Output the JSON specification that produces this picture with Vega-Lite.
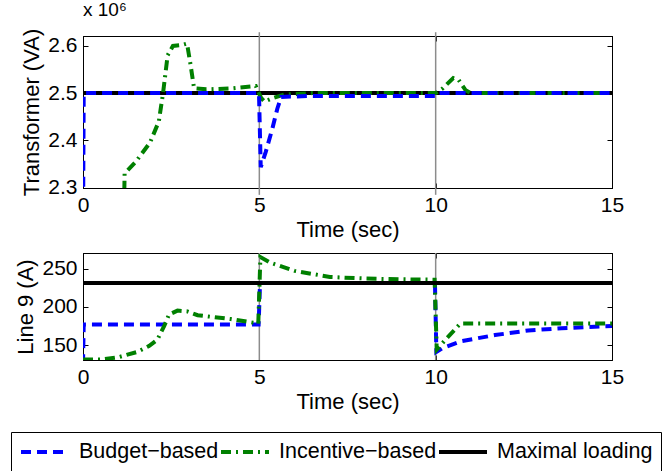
{
  "$schema": "https://vega.github.io/schema/vega-lite/v6.json",
  "padding": {"left": 10, "top": 0, "right": 0, "bottom": 0},
  "background": "white",
  "datasets": {
    "tr": [
      {"series": "Maximal loading", "t": 0, "v": 2.5},
      {"series": "Maximal loading", "t": 15, "v": 2.5},
      {"series": "Budget−based", "t": 0, "v": 2.2},
      {"series": "Budget−based", "t": 0.02, "v": 2.5},
      {"series": "Budget−based", "t": 4.99, "v": 2.5},
      {"series": "Budget−based", "t": 5.04, "v": 2.343},
      {"series": "Budget−based", "t": 5.18, "v": 2.375},
      {"series": "Budget−based", "t": 5.37, "v": 2.425},
      {"series": "Budget−based", "t": 5.51, "v": 2.467},
      {"series": "Budget−based", "t": 5.62, "v": 2.492},
      {"series": "Budget−based", "t": 6.5, "v": 2.494},
      {"series": "Budget−based", "t": 9.98, "v": 2.494},
      {"series": "Budget−based", "t": 10.05, "v": 2.5},
      {"series": "Budget−based", "t": 15, "v": 2.5},
      {"series": "Incentive−based", "t": 1.15, "v": 2.2},
      {"series": "Incentive−based", "t": 1.18, "v": 2.33},
      {"series": "Incentive−based", "t": 1.5, "v": 2.355},
      {"series": "Incentive−based", "t": 1.9, "v": 2.395},
      {"series": "Incentive−based", "t": 2.15, "v": 2.44},
      {"series": "Incentive−based", "t": 2.27, "v": 2.5},
      {"series": "Incentive−based", "t": 2.4, "v": 2.58},
      {"series": "Incentive−based", "t": 2.55, "v": 2.6},
      {"series": "Incentive−based", "t": 2.8, "v": 2.602},
      {"series": "Incentive−based", "t": 2.95, "v": 2.605},
      {"series": "Incentive−based", "t": 3.05, "v": 2.56},
      {"series": "Incentive−based", "t": 3.15, "v": 2.51},
      {"series": "Incentive−based", "t": 3.5, "v": 2.508},
      {"series": "Incentive−based", "t": 4.2, "v": 2.51},
      {"series": "Incentive−based", "t": 4.9, "v": 2.515},
      {"series": "Incentive−based", "t": 5.05, "v": 2.49},
      {"series": "Incentive−based", "t": 5.15, "v": 2.482},
      {"series": "Incentive−based", "t": 5.4, "v": 2.49},
      {"series": "Incentive−based", "t": 5.7, "v": 2.497},
      {"series": "Incentive−based", "t": 6.5, "v": 2.5},
      {"series": "Incentive−based", "t": 10, "v": 2.5},
      {"series": "Incentive−based", "t": 10.2, "v": 2.51},
      {"series": "Incentive−based", "t": 10.5, "v": 2.532},
      {"series": "Incentive−based", "t": 10.65, "v": 2.528},
      {"series": "Incentive−based", "t": 10.85, "v": 2.506},
      {"series": "Incentive−based", "t": 11, "v": 2.5},
      {"series": "Incentive−based", "t": 15, "v": 2.5}
    ],
    "l9": [
      {"series": "Maximal loading", "t": 0, "v": 231},
      {"series": "Maximal loading", "t": 15, "v": 231},
      {"series": "Budget−based", "t": 0, "v": 125},
      {"series": "Budget−based", "t": 0.02, "v": 177},
      {"series": "Budget−based", "t": 4.98, "v": 177},
      {"series": "Budget−based", "t": 5.02, "v": 231},
      {"series": "Budget−based", "t": 9.98, "v": 231},
      {"series": "Budget−based", "t": 10.02, "v": 141},
      {"series": "Budget−based", "t": 10.2, "v": 146},
      {"series": "Budget−based", "t": 10.73, "v": 155},
      {"series": "Budget−based", "t": 11.68, "v": 163},
      {"series": "Budget−based", "t": 12.62, "v": 169},
      {"series": "Budget−based", "t": 13.57, "v": 172},
      {"series": "Budget−based", "t": 15, "v": 175},
      {"series": "Incentive−based", "t": 0, "v": 131},
      {"series": "Incentive−based", "t": 0.5, "v": 131},
      {"series": "Incentive−based", "t": 1.0, "v": 134},
      {"series": "Incentive−based", "t": 1.54, "v": 141},
      {"series": "Incentive−based", "t": 1.87, "v": 148.6},
      {"series": "Incentive−based", "t": 2.11, "v": 157},
      {"series": "Incentive−based", "t": 2.3, "v": 174.6},
      {"series": "Incentive−based", "t": 2.44, "v": 190},
      {"series": "Incentive−based", "t": 2.68, "v": 195},
      {"series": "Incentive−based", "t": 2.96, "v": 194},
      {"series": "Incentive−based", "t": 3.25, "v": 189},
      {"series": "Incentive−based", "t": 4.19, "v": 184},
      {"series": "Incentive−based", "t": 4.86, "v": 179},
      {"series": "Incentive−based", "t": 4.97, "v": 178},
      {"series": "Incentive−based", "t": 5.03, "v": 265},
      {"series": "Incentive−based", "t": 5.3, "v": 258},
      {"series": "Incentive−based", "t": 6.0, "v": 247},
      {"series": "Incentive−based", "t": 7.0, "v": 239},
      {"series": "Incentive−based", "t": 8.0, "v": 237},
      {"series": "Incentive−based", "t": 9.0, "v": 236},
      {"series": "Incentive−based", "t": 9.97, "v": 235.5},
      {"series": "Incentive−based", "t": 10.03, "v": 144},
      {"series": "Incentive−based", "t": 10.3, "v": 158},
      {"series": "Incentive−based", "t": 10.7, "v": 178},
      {"series": "Incentive−based", "t": 12, "v": 178},
      {"series": "Incentive−based", "t": 15, "v": 178}
    ],
    "marksTop": [
      {"t": 5, "v": 2.2845, "v2": 2.629},
      {"t": 10, "v": 2.2845, "v2": 2.629}
    ],
    "marksBottom": [
      {"t": 5},
      {"t": 10}
    ]
  },
  "spacing": 10,
  "vconcat": [
    {
      "width": 529,
      "height": 152,
      "title": {"text": "x 10⁶", "anchor": "start", "frame": "group", "fontSize": 19, "fontWeight": "normal", "font": "Liberation Sans", "color": "black", "offset": 8},
      "resolve": {"axis": {"x": "independent", "y": "independent"}},
      "layer": [
        {
          "data": {"name": "marksTop"},
          "mark": {"type": "rule", "color": "#8c8c8c", "strokeWidth": 1.5, "clip": false},
          "encoding": {
            "x": {"field": "t", "type": "quantitative", "scale": {"domain": [0, 15], "nice": false, "zero": false},
                  "axis": {"orient": "top", "labels": false, "title": null, "values": [0, 5, 10, 15]}},
            "y": {"field": "v", "type": "quantitative", "scale": {"domain": [2.299, 2.621], "nice": false, "zero": false},
                  "axis": {"orient": "right", "labels": false, "title": null, "values": [2.3, 2.4, 2.5, 2.6]}},
            "y2": {"field": "v2"}
          }
        },
        {
          "data": {"name": "tr"},
          "transform": [{"filter": "datum.series === 'Maximal loading'"}],
          "mark": {"type": "line", "strokeWidth": 4, "clip": true},
          "encoding": {
            "x": {"field": "t", "type": "quantitative", "axis": {"values": [0, 5, 10, 15], "title": "Time (sec)", "labelFlush": false}},
            "y": {"field": "v", "type": "quantitative", "axis": {"values": [2.3, 2.4, 2.5, 2.6], "format": ".1f", "title": "Transformer (VA)"}},
            "color": {"field": "series", "type": "nominal"},
            "strokeDash": {"field": "series", "type": "nominal"}
          }
        },
        {
          "data": {"name": "tr"},
          "transform": [{"filter": "datum.series === 'Incentive−based'"}],
          "mark": {"type": "line", "strokeWidth": 4, "clip": true},
          "encoding": {
            "x": {"field": "t", "type": "quantitative", "axis": null},
            "y": {"field": "v", "type": "quantitative", "axis": null},
            "color": {"field": "series", "type": "nominal"},
            "strokeDash": {"field": "series", "type": "nominal"}
          }
        },
        {
          "data": {"name": "tr"},
          "transform": [{"filter": "datum.series === 'Budget−based'"}],
          "mark": {"type": "line", "strokeWidth": 4, "clip": true},
          "encoding": {
            "x": {"field": "t", "type": "quantitative", "axis": null},
            "y": {"field": "v", "type": "quantitative", "axis": null},
            "color": {"field": "series", "type": "nominal"},
            "strokeDash": {"field": "series", "type": "nominal"}
          }
        }
      ]
    },
    {
      "width": 529,
      "height": 107,
      "resolve": {"axis": {"x": "independent", "y": "independent"}},
      "layer": [
        {
          "data": {"name": "marksBottom"},
          "mark": {"type": "rule", "color": "#8c8c8c", "strokeWidth": 1.5},
          "encoding": {
            "x": {"field": "t", "type": "quantitative", "scale": {"domain": [0, 15], "nice": false, "zero": false},
                  "axis": {"orient": "top", "labels": false, "title": null, "values": [0, 5, 10, 15]}}
          }
        },
        {
          "data": {"name": "l9"},
          "transform": [{"filter": "datum.series === 'Budget−based'"}],
          "mark": {"type": "line", "strokeWidth": 4, "clip": true},
          "encoding": {
            "x": {"field": "t", "type": "quantitative", "axis": {"values": [0, 5, 10, 15], "title": "Time (sec)", "labelFlush": false}},
            "y": {"field": "v", "type": "quantitative", "scale": {"domain": [130.4, 270.4], "nice": false, "zero": false},
                  "axis": {"values": [150, 200, 250], "title": "Line 9 (A)"}},
            "color": {"field": "series", "type": "nominal"},
            "strokeDash": {"field": "series", "type": "nominal"}
          }
        },
        {
          "data": {"name": "l9"},
          "transform": [{"filter": "datum.series === 'Incentive−based'"}],
          "mark": {"type": "line", "strokeWidth": 4, "clip": true},
          "encoding": {
            "x": {"field": "t", "type": "quantitative", "axis": null},
            "y": {"field": "v", "type": "quantitative", "axis": {"orient": "right", "labels": false, "title": null, "values": [150, 200, 250]}},
            "color": {"field": "series", "type": "nominal"},
            "strokeDash": {"field": "series", "type": "nominal"}
          }
        },
        {
          "data": {"name": "l9"},
          "transform": [{"filter": "datum.series === 'Maximal loading'"}],
          "mark": {"type": "line", "strokeWidth": 4, "clip": true},
          "encoding": {
            "x": {"field": "t", "type": "quantitative", "axis": null},
            "y": {"field": "v", "type": "quantitative", "axis": null},
            "color": {"field": "series", "type": "nominal",
                      "scale": {"domain": ["Budget−based", "Incentive−based", "Maximal loading"], "range": ["#0000ff", "#008000", "#000000"]},
                      "legend": {"orient": "none", "legendX": -72, "legendY": 396, "direction": "horizontal", "title": null}},
            "strokeDash": {"field": "series", "type": "nominal",
                      "scale": {"domain": ["Budget−based", "Incentive−based", "Maximal loading"], "range": [[10, 6], [10, 5, 2, 5], [1, 0]]},
                      "legend": {"orient": "none", "legendX": -72, "legendY": 396, "direction": "horizontal", "title": null}}
          }
        }
      ]
    }
  ],
  "config": {
    "font": "Liberation Sans",
    "view": {"stroke": "black", "strokeWidth": 1},
    "axis": {
      "labelFont": "Liberation Sans", "labelFontSize": 21, "labelColor": "black",
      "titleFont": "Liberation Sans", "titleFontSize": 22, "titleFontWeight": "normal", "titleColor": "black",
      "domainColor": "black", "tickColor": "black", "grid": false,
      "tickSize": -5, "labelPadding": 11, "titlePadding": 4, "labelOverlap": false
    },
    "legend": {
      "symbolType": "stroke", "symbolSize": 2304, "symbolStrokeWidth": 4, "clipHeight": 24,
      "labelFont": "Liberation Sans", "labelFontSize": 21.5, "labelColor": "black", "labelLimit": 400,
      "strokeColor": "black", "padding": 8, "columnPadding": 0, "labelOffset": 8, "fillColor": "white"
    }
  }
}
